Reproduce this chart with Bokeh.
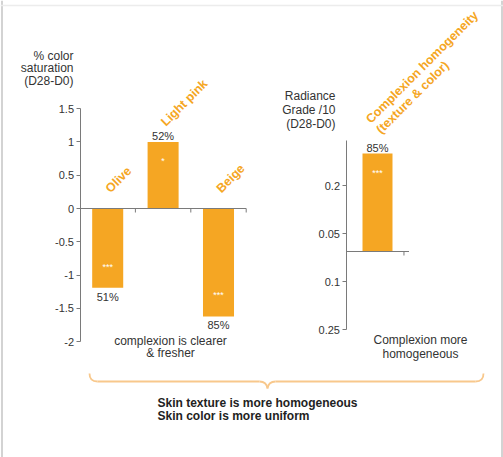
import math
from bokeh.plotting import figure
from bokeh.models import Range1d, FixedTicker, CustomJSTickFormatter, ColumnDataSource, LinearAxis
from bokeh.embed import file_html
from bokeh.resources import INLINE
from bokeh.core.properties import value

# ---------------- data ----------------
categories = ["Olive", "Light pink", "Beige"]
saturation_change = [-1.19, 1.0, -1.62]
saturation_pct = ["51%", "52%", "85%"]
saturation_sig = ["***", "*", "***"]
saturation_ticks = [-2, -1.5, -1, -0.5, 0, 0.5, 1, 1.5]

radiance_category = ["Complexion homogeneity\n(texture & color)"]
radiance_change = [2.04]
radiance_pct = ["85%"]
radiance_sig = ["***"]
radiance_tick_pos = [1.375, 0.375, -0.625, -1.625]
radiance_tick_labels = ["0.2", "0.05", "0.1", "0.25"]

# ---------------- style ----------------
FONT = "Liberation Sans"
ORANGE = "#F5A623"
TEXT = "#333333"
AXIS = "#7a7a7a"
BRACE = "#F8C88C"
W, H = 503, 457

# page-pixel calibration of the two value scales
L_X0, L_UX, L_Y0, L_UY = 79.5, 55.4, 208.0, 66.6
R_X0, R_UX, R_Y0, R_UY = 345.5, 63.0, 251.0, 48.0
def lx(px): return (px - L_X0) / L_UX
def ly(py): return (L_Y0 - py) / L_UY
def rx(px): return (px - R_X0) / R_UX
def ry(py): return (R_Y0 - py) / R_UY

p = figure(width=W, height=H, output_backend="svg", toolbar_location=None,
           x_range=Range1d(0, W), y_range=Range1d(H, 0),
           x_axis_location=None, y_axis_location=None,
           min_border_left=0, min_border_right=0, min_border_top=0, min_border_bottom=0,
           outline_line_color=None, background_fill_color="white", border_fill_color="white")
p.grid.visible = False
p.extra_x_ranges = {"lx": Range1d(lx(0), lx(W)), "rx": Range1d(rx(0), rx(W))}
p.extra_y_ranges = {"ly": Range1d(ly(H), ly(0)), "ry": Range1d(ry(H), ry(0))}


def style_axis(ax):
    ax.axis_line_color = AXIS
    ax.major_tick_line_color = AXIS
    ax.major_tick_out = 4
    ax.major_tick_in = 0
    ax.minor_tick_line_color = None
    ax.major_label_text_font = FONT
    ax.major_label_text_font_size = "11px"
    ax.major_label_text_color = TEXT
    ax.major_label_standoff = 2


# page frame lines
p.segment(x0=[1.5, 501.5, 0], y0=[0, 0, 5], x1=[1.5, 501.5, W], y1=[H, H, 5],
          line_color=["#c4c4c4", "#c4c4c4", "#ececec"], line_width=1.5)

# ---------------- left chart ----------------
ax1 = LinearAxis(x_range_name="lx", y_range_name="ly", fixed_location=0)
style_axis(ax1)
ax1.ticker = FixedTicker(ticks=saturation_ticks)
ax1.bounds = (min(saturation_ticks), max(saturation_ticks))
ax1.formatter = CustomJSTickFormatter(code="return tick.toString();")
p.add_layout(ax1, "left")

n = len(categories)
src1 = ColumnDataSource(dict(
    x=[i + 0.5 for i in range(n)], top=saturation_change, cat=categories,
    pct=saturation_pct, sig=saturation_sig,
    lab_y=[max(v, 0) for v in saturation_change],
    pct_off=[9 if v < 0 else -6 for v in saturation_change],
    sig_off=[-21 if v < 0 else 19 for v in saturation_change],
))
L = dict(x_range_name="lx", y_range_name="ly")
p.vbar(x="x", top="top", bottom=0, width=0.56, source=src1, fill_color=ORANGE, line_color=None, **L)
p.segment(x0=[0], y0=[0], x1=[n], y1=[0], line_color=AXIS, line_width=1, **L)
p.segment(x0=list(range(1, n + 1)), y0=[0] * n, x1=list(range(1, n + 1)), y1=[-4 / L_UY] * n,
          line_color=AXIS, line_width=1, **L)
p.text(x="x", y="top", text="pct", source=src1, y_offset="pct_off", text_align="center",
       text_baseline="middle", text_font=value(FONT), text_font_size="11px", text_color=TEXT, **L)
p.text(x="x", y="top", text="sig", source=src1, y_offset="sig_off", text_align="center",
       text_baseline="middle", text_font=value(FONT), text_font_size="9px", text_color="white", **L)
p.text(x="x", y="lab_y", text="cat", source=src1, x_offset=5, y_offset=-13, angle=math.pi / 4,
       text_align="left", text_baseline="bottom", text_font=value(FONT),
       text_font_size="12.5px", text_font_style="bold", text_color=ORANGE, **L)

# ---------------- right chart ----------------
ax2 = LinearAxis(x_range_name="rx", y_range_name="ry", fixed_location=0)
style_axis(ax2)
ax2.ticker = FixedTicker(ticks=radiance_tick_pos)
ax2.bounds = (min(radiance_tick_pos), ry(140))
ax2.formatter = CustomJSTickFormatter(
    args=dict(pos=radiance_tick_pos, labels=radiance_tick_labels),
    code="""let b = 0;
for (let i = 0; i < pos.length; i++) { if (Math.abs(pos[i] - tick) < Math.abs(pos[b] - tick)) b = i; }
return labels[b];""")
p.add_layout(ax2, "left")

m = len(radiance_category)
src2 = ColumnDataSource(dict(
    x=[i + 0.5 for i in range(m)], top=radiance_change, cat=radiance_category,
    pct=radiance_pct, sig=radiance_sig,
))
R = dict(x_range_name="rx", y_range_name="ry")
p.vbar(x="x", top="top", bottom=0, width=0.476, source=src2, fill_color=ORANGE, line_color=None, **R)
p.segment(x0=[0], y0=[0], x1=[m], y1=[0], line_color=AXIS, line_width=1, **R)
p.segment(x0=[m - 0.08], y0=[0], x1=[m - 0.08], y1=[-4 / R_UY], line_color=AXIS, line_width=1, **R)
p.text(x="x", y="top", text="pct", source=src2, y_offset=-6, text_align="center",
       text_baseline="middle", text_font=value(FONT), text_font_size="11px", text_color=TEXT, **R)
p.text(x="x", y="top", text="sig", source=src2, y_offset=19, text_align="center",
       text_baseline="middle", text_font=value(FONT), text_font_size="9px", text_color="white", **R)
p.text(x="x", y="top", text="cat", source=src2, x_offset=6, y_offset=-17, angle=math.pi / 4,
       text_align="left", text_baseline="bottom", text_font=value(FONT),
       text_font_size="12.5px", text_font_style="bold", text_color=ORANGE, text_line_height=1.05, **R)

# ---------------- texts (page pixel coordinates) ----------------
common = dict(text_font=value(FONT), text_font_size="12px", text_color=TEXT)
p.text(x=[73], y=[48], text=["% color\nsaturation\n(D28-D0)"], text_align="right",
       text_baseline="top", text_line_height=0.92, **common)
p.text(x=[335], y=[88], text=["Radiance\nGrade /10\n(D28-D0)"], text_align="right",
       text_baseline="top", text_line_height=1.0, **common)
p.text(x=[170], y=[333], text=["complexion is clearer\n& fresher"], text_align="center",
       text_baseline="top", text_line_height=0.9, **common)
p.text(x=[420], y=[332], text=["Complexion more\nhomogeneous"], text_align="center",
       text_baseline="top", text_line_height=1.0, **common)

# brace + conclusion
p.quadratic(x0=[89, 259, 267, 475], y0=[373, 381, 388, 381],
            x1=[97, 267, 275, 483], y1=[381, 388, 381, 373],
            cx=[89, 266, 268, 483], cy=[381, 381, 381, 381],
            line_color=BRACE, line_width=1.8)
p.segment(x0=[97, 275], y0=[381, 381], x1=[259, 475], y1=[381, 381], line_color=BRACE, line_width=1.8)
p.text(x=[157, 157], y=[402, 415], text=["Skin texture is more homogeneous", "Skin color is more uniform"],
       text_align="left", text_baseline="middle", text_font=value(FONT), text_font_size="12px",
       text_font_style="bold", text_color="#222222")

open("out.html", "w").write(file_html(p, INLINE))
